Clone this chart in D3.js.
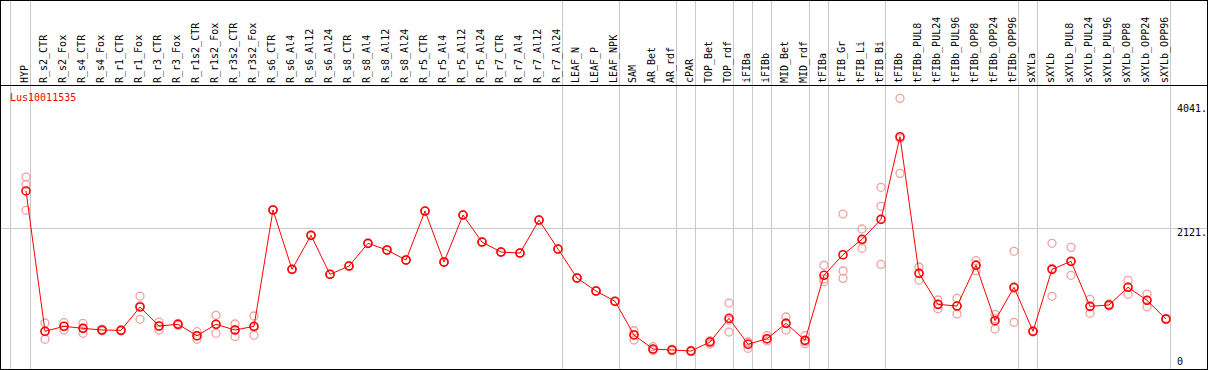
<!DOCTYPE html>
<html>
<head>
<meta charset="utf-8">
<script src="https://cdn.jsdelivr.net/npm/d3@7"></script>
<style>
  body { margin: 0; background: #fff; }
  svg { display: block; }
</style>
</head>
<body>
<div id="grafica"></div>
<script>
const geneName = 'Lus10011535'

const categories = [
    'HYP', 'R_s2_CTR', 'R_s2_Fox', 'R_s4_CTR', 'R_s4_Fox', 'R_r1_CTR', 'R_r1_Fox', 'R_r3_CTR', 'R_r3_Fox',
    'R_r1s2_CTR', 'R_r1s2_Fox', 'R_r3s2_CTR', 'R_r3s2_Fox', 'R_s6_CTR', 'R_s6_Al4', 'R_s6_Al12', 'R_s6_Al24',
    'R_s8_CTR', 'R_s8_Al4', 'R_s8_Al12', 'R_s8_Al24', 'R_r5_CTR', 'R_r5_Al4', 'R_r5_Al12', 'R_r5_Al24',
    'R_r7_CTR', 'R_r7_Al4', 'R_r7_Al12', 'R_r7_Al24', 'LEAF_N', 'LEAF_P', 'LEAF_NPK', 'SAM', 'AR_Bet', 'AR_rdf',
    'cPAR', 'TOP_Bet', 'TOP_rdf', 'iFIBa', 'iFIBb', 'MID_Bet', 'MID_rdf', 'tFIBa', 'tFIB_Gr', 'tFIB_Li', 'tFIB_Bi',
    'tFIBb', 'tFIBb_PUL8', 'tFIBb_PUL24', 'tFIBb_PUL96', 'tFIBb_OPP8', 'tFIBb_OPP24', 'tFIBb_OPP96',
    'sXYLa', 'sXYLb', 'sXYLb_PUL8', 'sXYLb_PUL24', 'sXYLb_PUL96', 'sXYLb_OPP8', 'sXYLb_OPP24', 'sXYLb_OPP96'
]

// last category of each group (vertical separators)
const groupEnds = ['HYP', 'R_r7_Al24', 'LEAF_NPK', 'AR_rdf', 'cPAR', 'TOP_rdf', 'iFIBa', 'iFIBb', 'MID_rdf',
    'tFIBa', 'tFIB_Bi', 'tFIBb_OPP96', 'sXYLa', 'sXYLb_OPP96']

// media
const meanValues = [
    2700, 535, 612, 581, 555, 550, 910, 617, 643, 467, 643, 555, 612, 2406, 1491, 2015, 1414,
    1542, 1892, 1789, 1635, 2390, 1604, 2328, 1912, 1758, 1742, 2251, 1804, 1357, 1157, 998,
    478, 262, 247, 231, 370, 736, 335, 421, 658, 396, 1399, 1716, 1954, 2262,
    3536, 1429, 951, 925, 1553, 699, 1214, 535, 1491, 1614, 920, 941, 1214, 1013, 725
]

// replicas
const rep1 = [
    2914, 663, 668, 658, 566, 555, 1079, 678, 658, 529, 782, 648, 771, 2406, 1491, 2015, 1414,
    1542, 1892, 1789, 1635, 2390, 1604, 2328, 1912, 1758, 1742, 2251, 1804, 1357, 1157, 998,
    544, 298, 258, 242, 386, 971, 370, 467, 756, 467, 1553, 2344, 2113, 2756,
    4128, 1527, 1018, 1044, 1624, 797, 1769, 544, 1892, 1830, 1029, 956, 1321, 1110, 735
]
const rep2 = [
    2802, 412, 555, 504, 544, 544, 720, 555, 628, 412, 504, 452, 473, 2406, 1491, 2015, 1414,
    1542, 1892, 1789, 1635, 2390, 1604, 2328, 1912, 1758, 1742, 2251, 1804, 1357, 1157, 998,
    401, 247, 236, 221, 339, 524, 273, 386, 555, 344, 1300, 1465, 1815, 2463,
    2971, 1326, 884, 802, 1470, 571, 674, 524, 1075, 1399, 813, 925, 1106, 914, 715
]
const rep3 = [
    2401, 530, 612, 581, 555, 550, 930, 617, 643, 463, 643, 560, 591, 2406, 1491, 2015, 1414,
    1542, 1892, 1789, 1635, 2390, 1604, 2328, 1912, 1758, 1742, 2251, 1804, 1357, 1157, 998,
    489, 242, 247, 231, 386, 709, 359, 412, 663, 375, 1342, 1352, 1932, 1568,
    3510, 1434, 951, 930, 1562, 729, 1198, 535, 1507, 1614, 920, 941, 1214, 1013, 725
]

const tickValues = [0, 2121, 4041]
const tickLabels = ['0', '2121.', '4041.']

const width = 1209
const height = 370
const plotTop = 85
const plotBottom = 369
const plotRight = 1207
var lineColor = '#ff0000'
var repColor = '#f2a0a0'
var gridColor = '#c8c8c8'

const svg = d3.select('#grafica')
    .append('svg')
    .attr('width', width)
    .attr('height', height)
    .style('font-family', "'DejaVu Sans Mono', monospace")
    .style('font-size', '10px')

// scales
const x = d3.scaleBand()
    .domain(categories)
    .range([11, 11 + categories.length * 19])
    .paddingInner(0)

const y = d3.scaleLinear()
    .domain([0, 4041])
    .range([366, 104])

const cx = d => x(d) + 15

// separators
svg.append('line')
    .attr('x1', 10.5).attr('x2', 10.5)
    .attr('y1', 0).attr('y2', plotBottom)
    .attr('stroke', gridColor)

svg.selectAll('.sep')
    .data(groupEnds)
    .enter().append('line')
    .attr('class', 'sep')
    .attr('x1', d => x(d) + x.bandwidth() + 0.5)
    .attr('x2', d => x(d) + x.bandwidth() + 0.5)
    .attr('y1', 0)
    .attr('y2', plotBottom)
    .attr('stroke', gridColor)

// horizontal grid at middle tick
svg.append('line')
    .attr('x1', 1).attr('x2', plotRight)
    .attr('y1', Math.round(y(2121)) + 0.5)
    .attr('y2', Math.round(y(2121)) + 0.5)
    .attr('stroke', gridColor)

// frame
svg.append('rect')
    .attr('x', 0.5).attr('y', 0.5)
    .attr('width', plotRight)
    .attr('height', plotBottom)
    .attr('fill', 'none')
    .attr('stroke', '#000')

svg.append('line')
    .attr('x1', 0).attr('x2', plotRight + 1)
    .attr('y1', plotTop + 0.5).attr('y2', plotTop + 0.5)
    .attr('stroke', '#000')

// column labels
svg.selectAll('.col-label')
    .data(categories)
    .enter().append('text')
    .attr('class', 'col-label')
    .attr('transform', d => `translate(${cx(d) + 2}, 83) rotate(-90)`)
    .text(d => d)
    .style('fill', '#000')

// y axis (labels left aligned right of the last column)
const yAxis = svg.append('g')
    .attr('class', 'y axis')
    .attr('transform', 'translate(1177, 0)')
    .call(d3.axisRight(y).tickValues(tickValues).tickSize(0).tickPadding(0)
        .tickFormat((d, i) => tickLabels[i]))

yAxis.select('.domain').remove()
yAxis.selectAll('text')
    .attr('text-anchor', 'start')
    .attr('dy', d => d === 0 ? '-0.2em' : '0.7em')
    .style('font-family', "'DejaVu Sans Mono', monospace")
    .style('font-size', '10px')
    .style('fill', '#000')

// gene name
svg.append('text')
    .attr('x', 10)
    .attr('y', 100.5)
    .text(geneName)
    .style('fill', lineColor)

// replicates
const reps = []
categories.forEach((c, i) => {
    [rep1[i], rep2[i], rep3[i]].forEach(v => reps.push({ cat: c, value: v }))
})

svg.selectAll('.rep')
    .data(reps)
    .enter().append('circle')
    .attr('class', 'rep')
    .attr('cx', d => cx(d.cat))
    .attr('cy', d => y(d.value))
    .attr('r', 4)
    .attr('fill', 'none')
    .attr('stroke', repColor)
    .attr('stroke-width', 1.3)

// mean line
const means = categories.map((c, i) => ({ cat: c, value: meanValues[i] }))

svg.append('path')
    .datum(means)
    .attr('fill', 'none')
    .attr('stroke', lineColor)
    .attr('stroke-width', 1)
    .attr('d', d3.line().x(d => cx(d.cat)).y(d => y(d.value)))

svg.selectAll('.mean')
    .data(means)
    .enter().append('circle')
    .attr('class', 'mean')
    .attr('cx', d => cx(d.cat))
    .attr('cy', d => y(d.value))
    .attr('r', 4)
    .attr('fill', 'none')
    .attr('stroke', lineColor)
    .attr('stroke-width', 1.6)
</script>
</body>
</html>
